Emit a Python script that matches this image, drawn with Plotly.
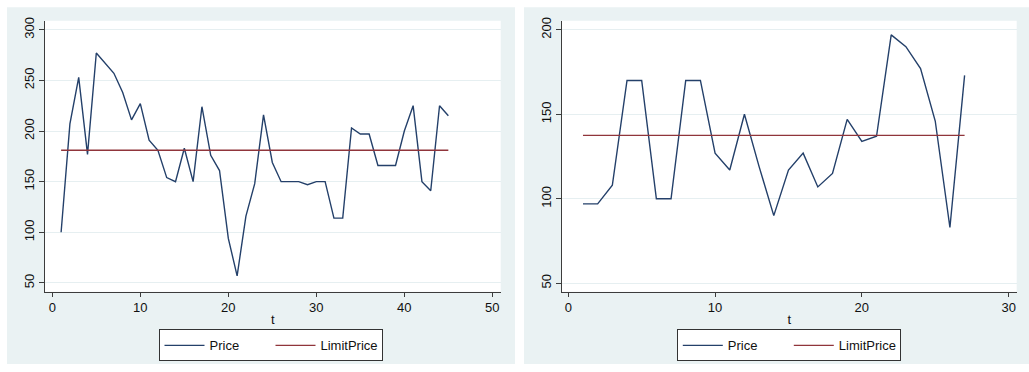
import plotly.graph_objects as go

# ---- data ----
t_left = list(range(1, 46))
price_left = [100, 207, 253, 177, 277, 267, 257, 238, 211, 227,
              191, 181, 154, 150, 183, 150, 224, 176, 161, 94,
              57, 116, 148, 216, 169, 150, 150, 150, 147, 150,
              150, 114, 114, 203, 197, 197, 166, 166, 166, 200,
              225, 150, 141, 225, 215]
limit_left = 181

t_right = list(range(1, 28))
price_right = [97, 97, 108, 170, 170, 100, 100, 170, 170, 127,
               117, 150, 119, 90, 117, 127, 107, 115, 147, 134,
               137, 197, 190, 177, 146, 83, 173]
limit_right = 137.5

xticks_left = [0, 10, 20, 30, 40, 50]
yticks_left = [50, 100, 150, 200, 250, 300]
xticks_right = [0, 10, 20, 30]
yticks_right = [50, 100, 150, 200]

W, H = 1029, 372
NAVY = "#24406a"
MAROON = "#90353b"
PANEL = "#eaf2f3"
GRID = "#e6eff1"
AXC = "#3c3c3c"
FONT = "Liberation Sans, Arial, sans-serif"

def px(x):
    return x / W

def py(y):
    return 1 - y / H

fig = go.Figure()

fig.add_trace(go.Scatter(x=t_left, y=price_left, mode="lines", name="Price",
                         line=dict(color=NAVY, width=1.4), xaxis="x", yaxis="y",
                         legend="legend"))
fig.add_trace(go.Scatter(x=[t_left[0], t_left[-1]], y=[limit_left, limit_left], mode="lines",
                         name="LimitPrice", line=dict(color=MAROON, width=1.4),
                         xaxis="x", yaxis="y", legend="legend"))
fig.add_trace(go.Scatter(x=t_right, y=price_right, mode="lines", name="Price",
                         line=dict(color=NAVY, width=1.4), xaxis="x2", yaxis="y2",
                         legend="legend2"))
fig.add_trace(go.Scatter(x=[t_right[0], t_right[-1]], y=[limit_right, limit_right], mode="lines",
                         name="LimitPrice", line=dict(color=MAROON, width=1.4),
                         xaxis="x2", yaxis="y2", legend="legend2"))

ydom = [py(291), py(17)]

def xaxis(domain, rng, ticks, anchor):
    return dict(domain=domain, range=rng, tickvals=ticks, anchor=anchor,
                showgrid=False, zeroline=False, showline=True, linecolor=AXC, linewidth=1,
                ticks="outside", ticklen=4, tickcolor=AXC, tickwidth=1,
                tickfont=dict(family=FONT, size=13, color="#111"),
                title=dict(text="t", font=dict(family=FONT, size=13, color="#111"), standoff=0))

def yaxis(rng, ticks, anchor):
    return dict(domain=ydom, range=rng, tickvals=ticks, anchor=anchor,
                showgrid=True, gridcolor=GRID, gridwidth=1, zeroline=False,
                showline=True, linecolor=AXC, linewidth=1,
                ticks="outside", ticklen=5, tickcolor=AXC, tickwidth=1,
                tickangle=-90,
                tickfont=dict(family=FONT, size=13, color="#111"))

legend_common = dict(orientation="h", xanchor="center", yanchor="top",
                     bgcolor="white", bordercolor="#333", borderwidth=1,
                     font=dict(family=FONT, size=13, color="#111"),
                     itemwidth=40, tracegroupgap=0,
                     entrywidth=56, entrywidthmode="pixels")

fig.update_layout(
    width=W, height=H,
    margin=dict(l=0, r=0, t=0, b=0),
    paper_bgcolor="white",
    plot_bgcolor="white",
    showlegend=True,
    xaxis=xaxis([px(45), px(500.7)], [-0.83, 50.95], xticks_left, "y"),
    yaxis=yaxis([41.2, 308.8], yticks_left, "x"),
    xaxis2=xaxis([px(561.7), px(1016.7)], [-0.45, 30.55], xticks_right, "y2"),
    yaxis2=yaxis([44.9, 205.3], yticks_right, "x2"),
    legend=dict(x=px(270.5), y=py(329), **legend_common),
    legend2=dict(x=px(788.8), y=py(329), **legend_common),
    shapes=[
        dict(type="rect", xref="paper", yref="paper", layer="below",
             x0=px(7), x1=px(515), y0=py(364), y1=py(3.3),
             fillcolor=PANEL, line=dict(width=0)),
        dict(type="rect", xref="paper", yref="paper", layer="below",
             x0=px(524), x1=1.0, y0=py(364), y1=py(3.3),
             fillcolor=PANEL, line=dict(width=0)),
        dict(type="rect", xref="paper", yref="paper", layer="below",
             x0=px(45), x1=px(500.7), y0=py(291), y1=py(17),
             fillcolor="white", line=dict(width=0)),
        dict(type="rect", xref="paper", yref="paper", layer="below",
             x0=px(561.7), x1=px(1016.7), y0=py(291), y1=py(17),
             fillcolor="white", line=dict(width=0)),
    ],
)

fig.write_html("out.html")
